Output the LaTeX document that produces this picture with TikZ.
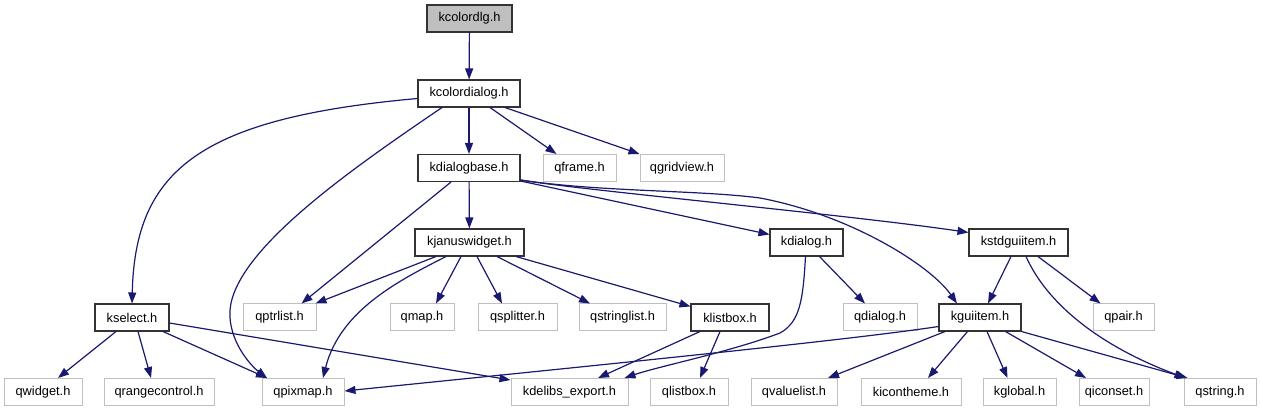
\documentclass[tikz,border=0pt]{standalone}
\usepackage{fontspec}
\setmainfont{Liberation Sans}
\usetikzlibrary{arrows.meta}
\definecolor{edgec}{HTML}{191970}
\definecolor{grayb}{HTML}{BFBFBF}
\begin{document}
\begin{tikzpicture}[x=1pt,y=-1pt,
  nbox/.style={draw, rectangle, minimum height=27pt, inner sep=0pt, font=\fontsize{12.8pt}{14pt}\selectfont, line width=1pt},
  kbox/.style={nbox, draw=black!80, line width=1.05pt},
  qbox/.style={nbox, draw=grayb},
  conn/.style={draw=edgec, line width=1.2pt, -{Triangle[length=11pt,width=8pt]}}]
\useasboundingbox (0,0) rectangle (1261,411);
% row 1-4
\node[kbox, fill=grayb, minimum width=85pt] (kcolordlg) at (469.5,18.5) {kcolordlg.h};
\node[kbox, minimum width=102pt] (kcolordialog) at (469,93.5) {kcolordialog.h};
\node[kbox, minimum width=102pt] (kdialogbase) at (469,168) {kdialogbase.h};
\node[qbox, minimum width=73pt] (qframe) at (579.5,168) {qframe.h};
\node[qbox, minimum width=84pt] (qgridview) at (682,168) {qgridview.h};
\node[kbox, minimum width=109pt] (kjanuswidget) at (469.5,242.5) {kjanuswidget.h};
\node[kbox, minimum width=73pt] (kdialog) at (806.5,242.5) {kdialog.h};
\node[kbox, minimum width=99pt] (kstdguiitem) at (1018.5,242.5) {kstdguiitem.h};
% row 5
\node[kbox, minimum width=74pt] (kselect) at (132,317.5) {kselect.h};
\node[qbox, minimum width=73pt] (qptrlist) at (279.5,317.5) {qptrlist.h};
\node[qbox, minimum width=64pt] (qmap) at (422,317.5) {qmap.h};
\node[qbox, minimum width=79pt] (qsplitter) at (517.5,317.5) {qsplitter.h};
\node[qbox, minimum width=87pt] (qstringlist) at (622.5,317.5) {qstringlist.h};
\node[kbox, minimum width=78pt] (klistbox) at (730,317.5) {klistbox.h};
\node[qbox, minimum width=74pt] (qdialog) at (880,317.5) {qdialog.h};
\node[kbox, minimum width=82pt] (kguiitem) at (980,317.5) {kguiitem.h};
\node[qbox, minimum width=61pt] (qpair) at (1123.5,317.5) {qpair.h};
% row 6
\node[qbox, minimum width=78pt] (qwidget) at (43,392) {qwidget.h};
\node[qbox, minimum width=110pt] (qrangecontrol) at (159,392) {qrangecontrol.h};
\node[qbox, minimum width=82pt] (qpixmap) at (303,392) {qpixmap.h};
\node[qbox, minimum width=117pt] (kdelibs) at (569.5,392) {kdelibs\_export.h};
\node[qbox, minimum width=78pt] (qlistbox) at (689,392) {qlistbox.h};
\node[qbox, minimum width=86pt] (qvaluelist) at (794,392) {qvaluelist.h};
\node[qbox, minimum width=100pt] (kicontheme) at (911,392) {kicontheme.h};
\node[qbox, minimum width=73pt] (kglobal) at (1019.5,392) {kglobal.h};
\node[qbox, minimum width=70pt] (qiconset) at (1114,392) {qiconset.h};
\node[qbox, minimum width=72pt] (qstring) at (1220,392) {qstring.h};
% edges
\draw[conn] (kcolordlg) -- (kcolordialog);
\draw[conn] (kcolordialog) -- (kdialogbase);
\draw[conn] ([xshift=21pt]kcolordialog.south) -- ([xshift=-23pt]qframe.north);
\draw[conn] ([xshift=36pt]kcolordialog.south) -- (qgridview.north west);
\draw[conn] ([yshift=-5pt]kcolordialog.west) .. controls (200,118) and (135,170) .. (kselect.north);
\draw[conn] ([xshift=-27pt]kcolordialog.south) .. controls (350,170) and (235,250) .. (230,310) .. controls (228,340) and (250,365) .. ([xshift=-36pt]qpixmap.north);
\draw[conn] (kdialogbase) -- (kjanuswidget);
\draw[conn] ([xshift=-18pt]kdialogbase.south) -- ([xshift=22pt]qptrlist.north);
\draw[conn] ([yshift=1pt]kdialogbase.south east) -- ([yshift=-6pt]kdialog.north west);
\draw[conn] ([yshift=2pt]kdialogbase.south east) .. controls (580,190) and (850,215) .. ([yshift=-4pt]kstdguiitem.north west);
\draw[conn] ([yshift=2pt]kdialogbase.south east) .. controls (600,192) and (700,190) .. (760,198) .. controls (850,215) and (930,265) .. ([xshift=-23pt]kguiitem.north);
\draw[conn] ([xshift=-33.5pt]kjanuswidget.south) -- ([xshift=36pt]qptrlist.north);
\draw[conn] ([xshift=-23.5pt]kjanuswidget.south) .. controls (400,280) and (340,310) .. ([xshift=20pt]qpixmap.north);
\draw[conn] ([xshift=-8.5pt]kjanuswidget.south) -- ([xshift=14pt]qmap.north);
\draw[conn] ([xshift=7.5pt]kjanuswidget.south) -- ([xshift=-15.5pt]qsplitter.north);
\draw[conn] ([xshift=27.5pt]kjanuswidget.south) -- ([xshift=-32.5pt]qstringlist.north);
\draw[conn] ([xshift=46.5pt]kjanuswidget.south) -- ([yshift=-3pt]klistbox.north west);
\draw[conn] ([xshift=13pt]kdialog.south) -- ([xshift=-15pt]qdialog.north);
\draw[conn] ([xshift=-1pt]kdialog.south) .. controls (803,300) and (800,322) .. (780,333) .. controls (730,352) and (660,366) .. ([xshift=-4pt]kdelibs.north east);
\draw[conn] ([xshift=-7.5pt]kstdguiitem.south) -- ([xshift=8pt]kguiitem.north);
\draw[conn] ([xshift=19.5pt]kstdguiitem.south) -- ([xshift=-23pt]qpair.north);
\draw[conn] ([xshift=7.5pt]kstdguiitem.south) .. controls (1050,310) and (1110,350) .. ([xshift=2pt]qstring.north west);
\draw[conn] ([xshift=-16pt]kselect.south) -- ([xshift=15pt]qwidget.north);
\draw[conn] ([xshift=6pt]kselect.south) -- ([xshift=-8pt]qrangecontrol.north);
\draw[conn] ([xshift=31pt]kselect.south) -- ([xshift=-36pt]qpixmap.north);
\draw[conn] ([yshift=-5.5pt]kselect.east) -- ([yshift=-2pt]kdelibs.north west);
\draw[conn] ([xshift=-30pt]klistbox.south) -- ([xshift=28.5pt]kdelibs.north);
\draw[conn] ([xshift=-10pt]klistbox.south) -- ([xshift=11pt]qlistbox.north);
\draw[conn] ([yshift=-9pt]kguiitem.west) .. controls (850,340) and (600,365) .. ([yshift=1pt]qpixmap.east);
\draw[conn] ([xshift=-35pt]kguiitem.south) -- ([xshift=34pt]qvaluelist.north);
\draw[conn] ([xshift=-12.5pt]kguiitem.south) -- ([xshift=17pt]kicontheme.north);
\draw[conn] ([xshift=7pt]kguiitem.south) -- ([xshift=-12pt]kglobal.north);
\draw[conn] ([xshift=25.5pt]kguiitem.south) -- ([xshift=-28pt]qiconset.north);
\draw[conn] (kguiitem.south east) -- ([xshift=4pt]qstring.north west);
\end{tikzpicture}
\end{document}
